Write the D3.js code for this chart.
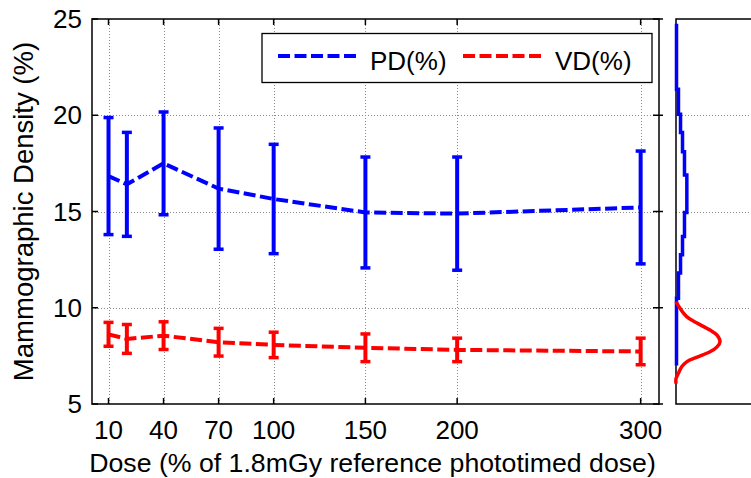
<!DOCTYPE html>
<html>
<head>
<meta charset="utf-8">
<script src="https://cdn.jsdelivr.net/npm/d3@7"></script>
<style>
	body { margin: 0; background: #fff; }
	text { font-family: "Liberation Sans", Arial, sans-serif; fill: #000; }
</style>
</head>
<body>
<div id="chart"></div>
<script>
// dose levels (% of 1.8mGy) and the measured densities
var doses = [10, 20, 40, 70, 100, 150, 200, 300];
var pdMean = [16.84, 16.41, 17.5, 16.19, 15.65, 14.95, 14.89, 15.21];
var pdErr = [3.04, 2.70, 2.67, 3.15, 2.84, 2.88, 2.94, 2.93];
var vdMean = [8.62, 8.38, 8.55, 8.21, 8.07, 7.92, 7.81, 7.73];
var vdErr = [0.62, 0.75, 0.72, 0.72, 0.66, 0.72, 0.61, 0.69];

var xTicks = [10, 40, 70, 100, 150, 200, 300];
var yTicks = [5, 10, 15, 20, 25];
var gridY = [10, 15, 20];

// side panel: PD histogram (bin edges / density) and VD density curve
var pdHistEdges = [7.0, 10.5, 11.8, 12.75, 13.7, 14.95, 16.9, 18.1, 19.1, 20.05, 21.35, 24.75];
var pdHistDens = [0, 0.026, 0.053, 0.079, 0.105, 0.136, 0.105, 0.079, 0.053, 0.026, 0];
var vdKdeVal = [10.32, 9.97, 9.54, 9.22, 8.84, 8.58, 8.23, 7.97, 7.71, 7.42, 7.19, 6.93, 6.58, 6.32, 6.06];
var vdKdeDens = [0, 0.053, 0.14, 0.27, 0.447, 0.54, 0.579, 0.54, 0.447, 0.27, 0.14, 0.075, 0.03, 0, 0];

var legendNames = ["PD(%)", "VD(%)"];
var seriesColors = ["#0000ff", "#ff0000"];

var conf = {
	width: 751, height: 478,
	left: 92, right: 659, top: 19, bottom: 404,
	sideLeft: 676, sideRight: 752,
	font: 26
};

var x = d3.scaleLinear().domain([1, 310]).range([conf.left, conf.right]);
var y = d3.scaleLinear().domain([5, 25]).range([conf.bottom, conf.top]);
var xs = d3.scaleLinear().domain([0, 1]).range([conf.sideLeft, conf.sideRight]);

var $svg = d3.select("#chart").append("svg")
	.attr("width", conf.width)
	.attr("height", conf.height);

// grid lines (dotted)
var $grid = $svg.append("g").attr("class", "grid")
	.attr("stroke", "#8a8a8a")
	.attr("stroke-width", 1)
	.attr("stroke-dasharray", "1,2");
$grid.selectAll("line.gx").data(xTicks).enter()
	.append("line").attr("class", "gx")
	.attr("x1", function(d) { return Math.round(x(d)) + 0.5; })
	.attr("x2", function(d) { return Math.round(x(d)) + 0.5; })
	.attr("y1", conf.top)
	.attr("y2", conf.bottom);
$grid.selectAll("line.gy").data(gridY).enter()
	.append("line").attr("class", "gy")
	.attr("x1", conf.left)
	.attr("x2", conf.right)
	.attr("y1", function(d) { return Math.round(y(d)) + 0.5; })
	.attr("y2", function(d) { return Math.round(y(d)) + 0.5; });
$grid.selectAll("line.sy").data(gridY).enter()
	.append("line").attr("class", "sy")
	.attr("x1", conf.sideLeft)
	.attr("x2", conf.width)
	.attr("y1", function(d) { return Math.round(y(d)) + 0.5; })
	.attr("y2", function(d) { return Math.round(y(d)) + 0.5; });

// axes box + inward ticks
var $axes = $svg.append("g").attr("stroke", "#000").attr("fill", "none");
$axes.append("rect")
	.attr("x", conf.left).attr("y", conf.top)
	.attr("width", conf.right - conf.left)
	.attr("height", conf.bottom - conf.top)
	.attr("stroke-width", 1.5);
$axes.selectAll("line.tb").data(xTicks).enter()
	.append("line").attr("class", "tb")
	.attr("x1", function(d) { return x(d); })
	.attr("x2", function(d) { return x(d); })
	.attr("y1", conf.bottom).attr("y2", conf.bottom - 6)
	.attr("stroke-width", 1.5);
$axes.selectAll("line.tt").data(xTicks).enter()
	.append("line").attr("class", "tt")
	.attr("x1", function(d) { return x(d); })
	.attr("x2", function(d) { return x(d); })
	.attr("y1", conf.top).attr("y2", conf.top + 6)
	.attr("stroke-width", 1.5);
$axes.selectAll("line.tl").data(yTicks).enter()
	.append("line").attr("class", "tl")
	.attr("x1", conf.left).attr("x2", conf.left + 6)
	.attr("y1", function(d) { return y(d); })
	.attr("y2", function(d) { return y(d); })
	.attr("stroke-width", 1.5);
$axes.selectAll("line.tr").data(yTicks).enter()
	.append("line").attr("class", "tr")
	.attr("x1", conf.right - 6).attr("x2", conf.right + 4)
	.attr("y1", function(d) { return y(d); })
	.attr("y2", function(d) { return y(d); })
	.attr("stroke-width", 1.5);

// side panel frame (right side runs off the picture)
$axes.append("path")
	.attr("d", "M" + conf.width + "," + conf.top + "H" + conf.sideLeft + "V" + conf.bottom + "H" + conf.width)
	.attr("stroke-width", 1.5);

// tick labels
$svg.selectAll("text.xt").data(xTicks).enter()
	.append("text").attr("class", "xt")
	.attr("x", function(d) { return x(d); })
	.attr("y", 438.5)
	.attr("text-anchor", "middle")
	.style("font-size", conf.font + "px")
	.text(function(d) { return d; });
$svg.selectAll("text.yt").data(yTicks).enter()
	.append("text").attr("class", "yt")
	.attr("x", 82)
	.attr("y", function(d) { return y(d) + 9; })
	.attr("text-anchor", "end")
	.style("font-size", conf.font + "px")
	.text(function(d) { return d; });

$svg.append("text")
	.attr("x", (conf.left + conf.right) / 2 - 3)
	.attr("y", 471.5)
	.attr("text-anchor", "middle")
	.style("font-size", "26.7px")
	.text("Dose (% of 1.8mGy reference phototimed dose)");
$svg.append("text")
	.attr("transform", "translate(33," + ((conf.top + conf.bottom) / 2) + ") rotate(-90)")
	.attr("text-anchor", "middle")
	.style("font-size", "27.5px")
	.text("Mammographic Density (%)");

var _zip = function(means, errs) {
	return doses.map(function(d, i) {
		return { dose: d, mean: means[i], err: errs[i] };
	});
};

// error bars + dashed mean line for one series
var drawSeries = function(means, errs, color) {
	var pts = _zip(means, errs);
	var $g = $svg.append("g").attr("stroke", color).attr("fill", "none");
	$g.append("path")
		.attr("d", d3.line()
			.x(function(d) { return x(d.dose); })
			.y(function(d) { return y(d.mean); })(pts))
		.attr("stroke-width", 4)
		.attr("stroke-dasharray", "12,4.5");
	var $bar = $g.selectAll("g.bar").data(pts).enter().append("g").attr("class", "bar");
	$bar.append("line")
		.attr("x1", function(d) { return x(d.dose); })
		.attr("x2", function(d) { return x(d.dose); })
		.attr("y1", function(d) { return y(d.mean + d.err); })
		.attr("y2", function(d) { return y(d.mean - d.err); })
		.attr("stroke-width", 4);
	[1, -1].forEach(function(sgn) {
		$bar.append("line")
			.attr("x1", function(d) { return x(d.dose) - 5; })
			.attr("x2", function(d) { return x(d.dose) + 5; })
			.attr("y1", function(d) { return y(d.mean + sgn * d.err); })
			.attr("y2", function(d) { return y(d.mean + sgn * d.err); })
			.attr("stroke-width", 3.5);
	});
};

drawSeries(pdMean, pdErr, seriesColors[0]);
drawSeries(vdMean, vdErr, seriesColors[1]);

// side panel curves
var histPts = [];
pdHistDens.forEach(function(dens, i) {
	histPts.push([dens, pdHistEdges[i]]);
	histPts.push([dens, pdHistEdges[i + 1]]);
});
$svg.append("path")
	.attr("d", d3.line()
		.x(function(d) { return xs(d[0]) + 0.5; })
		.y(function(d) { return y(d[1]); })(histPts))
	.attr("fill", "none")
	.attr("stroke", seriesColors[0])
	.attr("stroke-width", 3.5);

var kdePts = vdKdeVal.map(function(v, i) { return [vdKdeDens[i], v]; });
$svg.append("path")
	.attr("d", d3.line()
		.curve(d3.curveCatmullRom)
		.x(function(d) { return xs(d[0]); })
		.y(function(d) { return y(d[1]); })(kdePts))
	.attr("fill", "none")
	.attr("stroke", seriesColors[1])
	.attr("stroke-width", 3.5);

// legend
var $legend = $svg.append("g").attr("class", "legend");
$legend.append("rect")
	.attr("x", 262).attr("y", 33.5)
	.attr("width", 390).attr("height", 49)
	.attr("fill", "#fff")
	.attr("stroke", "#000")
	.attr("stroke-width", 1.3);
var legendX = [278, 463];
legendNames.forEach(function(name, i) {
	$legend.append("line")
		.attr("x1", legendX[i]).attr("x2", legendX[i] + 82)
		.attr("y1", 56).attr("y2", 56)
		.attr("stroke", seriesColors[i])
		.attr("stroke-width", 4)
		.attr("stroke-dasharray", "12,4.5");
	$legend.append("text")
		.attr("x", legendX[i] + 92)
		.attr("y", 69.5)
		.style("font-size", conf.font + "px")
		.text(name);
});
</script>
</body>
</html>
